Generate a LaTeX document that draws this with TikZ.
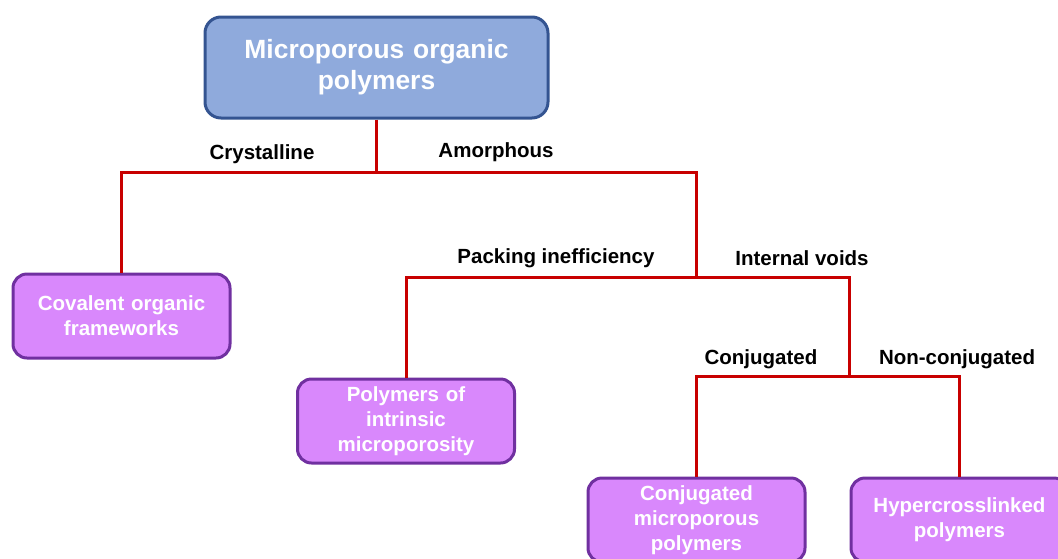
\documentclass[tikz,border=0pt]{standalone}
\usepackage{fontspec}
\setmainfont{Liberation Sans}
\usepackage{tikz}
\usetikzlibrary{positioning}
\usepackage{xcolor}
\definecolor{topfill}{RGB}{143,170,220}
\definecolor{topline}{RGB}{52,84,145}
\definecolor{subfill}{RGB}{217,136,252}
\definecolor{subline}{RGB}{112,48,160}
\definecolor{branch}{RGB}{200,0,0}

\begin{document}
\begin{tikzpicture}[x=1pt, y=-1pt,
    rootbox/.style={draw=topline, fill=topfill, line width=3pt, rounded corners=16pt,
      minimum width=343pt, minimum height=101pt, text width=330pt, align=center,
      text=white, font=\bfseries\fontsize{26.4}{31}\selectfont},
    classbox/.style={draw=subline, fill=subfill, line width=3pt, rounded corners=14pt,
      minimum width=217pt, minimum height=84pt, text width=210pt, align=center,
      text=white, font=\bfseries\fontsize{20.5}{25}\selectfont},
    branchlbl/.style={font=\bfseries\fontsize{20.5}{24}\selectfont},
    link/.style={draw=branch, line width=3pt}]
    \useasboundingbox (0,0) rectangle (1058,558);
    \node[rootbox] (mop) at (376.5,67.5) {Microporous organic\\polymers};
    \node[classbox] (cof) at (121.5,316) {Covalent organic\\frameworks};
    \node[classbox] (pim) at (406,421) {Polymers of\\intrinsic\\microporosity};
    \node[classbox] (cmp) at (696.5,520) {Conjugated\\microporous\\polymers};
    \node[classbox] (hcp) at (959.5,520) {Hypercrosslinked\\polymers};
    \coordinate (split1) at (376.5,172);
    \coordinate (split2) at (696,277);
    \coordinate (split3) at (849,376);
    \draw[link] (mop.south) -- (split1);
    \draw[link] (split1) -| (cof.north);
    \draw[link] (split1) -| (split2);
    \draw[link] (split2) -| (pim.north);
    \draw[link] (split2) -| (split3);
    \draw[link] (split3) -| (cmp.north);
    \draw[link] (split3) -| (hcp.north);
    \node[branchlbl] (crys) at (262,154) {Crystalline};
    \node[branchlbl] (amor) at (496,152) {Amorphous};
    \node[branchlbl] (pack) at (556,258) {Packing inefficiency};
    \node[branchlbl] (void) at (802,258) {Internal voids};
    \node[branchlbl] (conj) at (761,359) {Conjugated};
    \node[branchlbl] (nconj) at (957,359) {Non-conjugated};
\end{tikzpicture}
\end{document}
